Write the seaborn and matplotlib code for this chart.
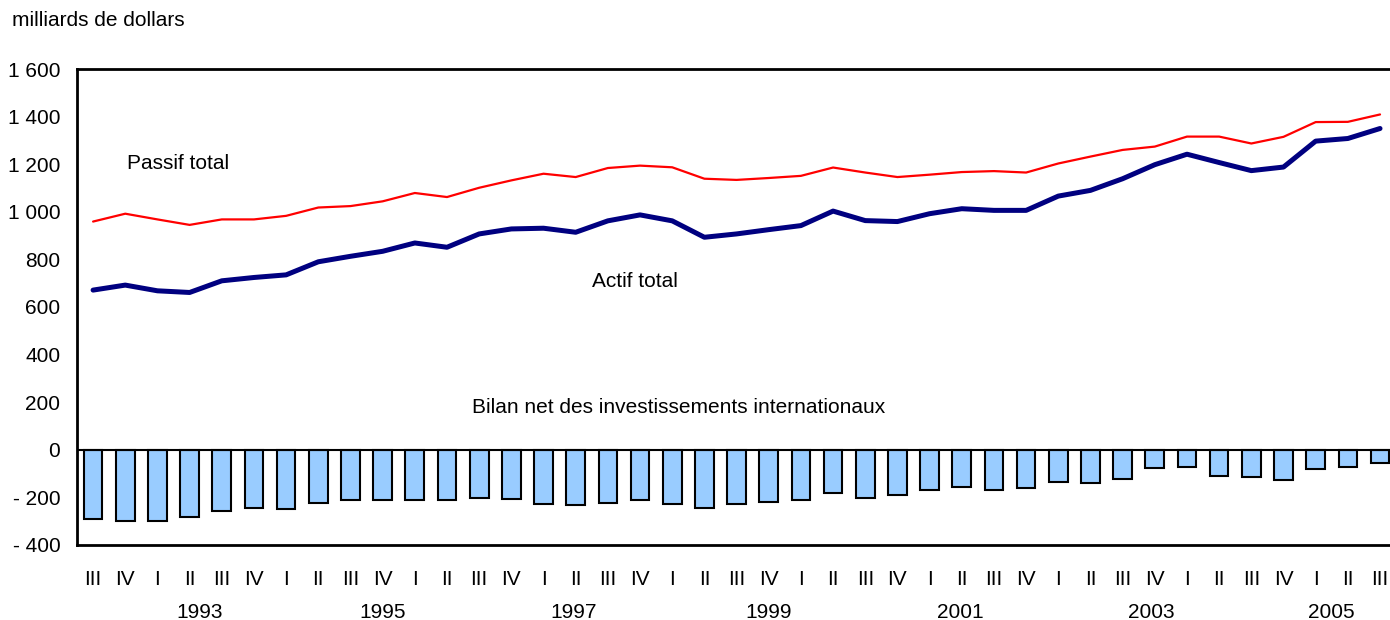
# -----------------------------
# IMPORT LIBRARIES
# -----------------------------
import pandas as pd
import matplotlib
matplotlib.use("Agg")
import matplotlib.pyplot as plt
import seaborn as sns

sns.set_theme(style="white")
plt.rcParams['font.family'] = ['Liberation Sans', 'DejaVu Sans']
plt.rcParams['font.size'] = 15
plt.rcParams['text.color'] = 'black'
plt.rcParams['xtick.color'] = 'black'
plt.rcParams['ytick.color'] = 'black'

# -----------------------------
# DATA (milliards de dollars, 1992 III - 2005 III)
# -----------------------------
quarters = ["III", "IV"] + ["I", "II", "III", "IV"] * 9 + ["I", "II", "III"]

passif = [959, 992, 968, 945, 968, 968, 983, 1018, 1024, 1044,
          1079, 1062, 1101, 1132, 1160, 1146, 1184, 1194, 1187, 1139,
          1134, 1142, 1151, 1186, 1165, 1146, 1156, 1167, 1171, 1165,
          1203, 1232, 1260, 1274, 1316, 1316, 1287, 1315, 1377, 1378, 1409]

actif = [671, 692, 668, 661, 710, 724, 735, 790, 813, 834,
         869, 851, 907, 928, 931, 914, 962, 987, 962, 893,
         907, 925, 942, 1003, 963, 959, 992, 1013, 1006, 1006,
         1066, 1090, 1139, 1198, 1242, 1207, 1173, 1188, 1297, 1308, 1350]

bilan = [-291, -301, -298, -283, -259, -245, -249, -225, -213, -209,
         -209, -213, -201, -205, -226, -233, -222, -209, -229, -245,
         -228, -219, -212, -181, -202, -192, -171, -158, -170, -160,
         -136, -141, -124, -78, -73, -110, -115, -127, -82, -71, -56]

years = ["1993", "1995", "1997", "1999", "2001", "2003", "2005"]

df = pd.DataFrame({"t": range(len(quarters)), "passif": passif,
                   "actif": actif, "bilan": bilan})

# -----------------------------
# FIGURE
# -----------------------------
fig = plt.figure(figsize=(13.9, 6.2), dpi=100)
ax = fig.add_axes([0.0554, 0.121, 0.9446, 0.7677])

sns.barplot(data=df, x="t", y="bilan", native_scale=True, width=0.58,
            color="#99CCFF", saturation=1, edgecolor="black", linewidth=1.5,
            errorbar=None, ax=ax)
sns.lineplot(data=df, x="t", y="passif", color="#FF0000", linewidth=1.6, ax=ax)
sns.lineplot(data=df, x="t", y="actif", color="#000080", linewidth=3.6, ax=ax)

ax.axhline(0, color="black", linewidth=1.5, zorder=1)

ax.set_xlim(-0.5, 40.31)
ax.set_ylim(-400, 1600)
ax.set_xlabel("")
ax.set_ylabel("")

ax.set_yticks(range(-400, 1601, 200))
ax.set_yticklabels([f"{v:,}".replace(",", " ").replace("-", "- ")
                    for v in range(-400, 1601, 200)])
ax.set_xticks(df["t"])
ax.set_xticklabels(quarters)
ax.tick_params(axis="x", length=0, pad=18, labelsize=15)
ax.tick_params(axis="y", length=0, pad=12, labelsize=15)

for side in ["left", "top", "bottom"]:
    ax.spines[side].set_color("black")
    ax.spines[side].set_linewidth(2)
ax.spines["right"].set_visible(False)

# year labels under the quarters
year_pos = [3.3, 9.0, 14.95, 21.0, 26.95, 32.9, 38.5]
for x, yr in zip(year_pos, years):
    ax.text(x, -0.141, yr, transform=ax.get_xaxis_transform(),
            ha="center", va="center", fontsize=15)

# series labels
ax.text(1.06, 1202, "Passif total", ha="left", va="center", fontsize=15)
ax.text(15.5, 709, "Actif total", ha="left", va="center", fontsize=15)
ax.text(11.78, 177, "Bilan net des investissements internationaux",
        ha="left", va="center", fontsize=15)

fig.text(12 / 1390, 1 - 20 / 620, "milliards de dollars",
         ha="left", va="center", fontsize=15)

fig.savefig("out.png", dpi=100)
